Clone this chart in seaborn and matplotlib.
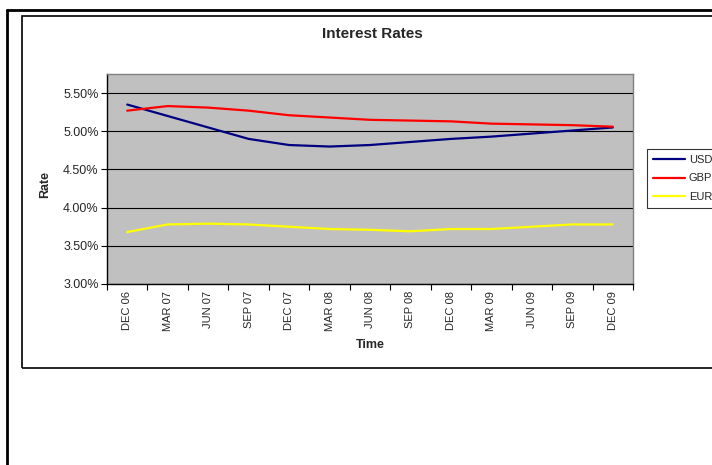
import matplotlib
matplotlib.use("Agg")
import matplotlib.pyplot as plt
from matplotlib.patches import Rectangle
from matplotlib.lines import Line2D
from matplotlib.ticker import FuncFormatter, FixedLocator
import seaborn as sns
import pandas as pd
import numpy as np

# data (percent)
periods = ["DEC 06", "MAR 07", "JUN 07", "SEP 07", "DEC 07", "MAR 08", "JUN 08",
           "SEP 08", "DEC 08", "MAR 09", "JUN 09", "SEP 09", "DEC 09"]
usd = [5.35, 5.20, 5.05, 4.90, 4.82, 4.80, 4.82, 4.86, 4.90, 4.93, 4.97, 5.01, 5.05]
gbp = [5.27, 5.33, 5.31, 5.27, 5.21, 5.18, 5.15, 5.14, 5.13, 5.10, 5.09, 5.08, 5.06]
eur = [3.68, 3.78, 3.79, 3.78, 3.75, 3.72, 3.71, 3.69, 3.72, 3.72, 3.75, 3.78, 3.78]

series = {"USD": usd, "GBP": gbp, "EUR": eur}
colors = {"USD": "#000080", "GBP": "#FF0000", "EUR": "#FFFF00"}

rows = []
for name, vals in series.items():
    for i, v in enumerate(vals):
        rows.append({"idx": i, "Rate": v, "Currency": name})
df = pd.DataFrame(rows)

sns.set_style("white")
plt.rcParams["font.family"] = ["Liberation Sans", "DejaVu Sans"]

W, H = 712, 465
fig = plt.figure(figsize=(W / 100, H / 100), dpi=100)

# outer frame and chart area box
fig.add_artist(Line2D([7 / W, 1], [1 - 10 / H, 1 - 10 / H], color="black", lw=2,
                      transform=fig.transFigure))
fig.add_artist(Line2D([7 / W, 7 / W], [0, 1 - 10 / H], color="black", lw=2,
                      transform=fig.transFigure))
fig.add_artist(Rectangle((22 / W, 1 - 368 / H), 1, (368 - 16) / H, fill=False,
                         edgecolor="black", lw=1.2, transform=fig.transFigure))

ax = fig.add_axes([107 / W, 1 - 284 / H, (633 - 107) / W, (284 - 74) / H])
ax.set_facecolor("#C0C0C0")

sns.lineplot(data=df, x="idx", y="Rate", hue="Currency", palette=colors,
             linewidth=1.6, ax=ax, legend=False)

ax.set_xlim(-0.5, len(periods) - 0.5)
ax.set_ylim(3.0, 5.75)
yt = [3.0, 3.5, 4.0, 4.5, 5.0, 5.5]
ax.set_yticks(yt)
ax.yaxis.set_major_formatter(FuncFormatter(lambda v, p: f"{v:.2f}%"))
ax.grid(axis="y", color="black", lw=0.8)
ax.grid(axis="x", visible=False)

ax.set_xticks(range(len(periods)))
ax.set_xticklabels(periods, rotation=90, fontsize=8)
ax.xaxis.set_minor_locator(FixedLocator(np.arange(-0.5, len(periods), 1.0)))
ax.tick_params(axis="x", which="major", length=0, pad=5)
ax.tick_params(axis="x", which="minor", length=4, width=0.8, color="black", direction="out")
ax.tick_params(axis="y", length=4, width=0.8, color="black", direction="out",
               labelsize=9, pad=2)
ax.tick_params(bottom=True, left=True, which="both")

for s in ["left", "bottom"]:
    ax.spines[s].set_color("black")
    ax.spines[s].set_linewidth(1.0)
for s in ["top", "right"]:
    ax.spines[s].set_color("#808080")
    ax.spines[s].set_linewidth(1.0)

ax.set_xlabel("")
ax.set_ylabel("")
fig.text(372 / W, 1 - 34 / H, "Interest Rates", ha="center", va="center",
         fontsize=11, fontweight="bold")
fig.text(45 / W, 1 - 185 / H, "Rate", ha="center", va="center", rotation=90,
         fontsize=9, fontweight="bold")
fig.text(370 / W, 1 - 345 / H, "Time", ha="center", va="center",
         fontsize=9, fontweight="bold")

handles = [Line2D([], [], color=colors[k], lw=1.6) for k in series]
leg = fig.legend(handles, list(series.keys()), loc="upper left",
                 bbox_to_anchor=(647 / W, 1 - 149 / H), bbox_transform=fig.transFigure,
                 borderaxespad=0, frameon=True, fancybox=False, fontsize=8,
                 handlelength=2.9, handletextpad=0.3, labelspacing=0.75,
                 borderpad=0.55)
leg.get_frame().set_edgecolor("black")
leg.get_frame().set_linewidth(0.8)

fig.savefig("out.png", dpi=100)
